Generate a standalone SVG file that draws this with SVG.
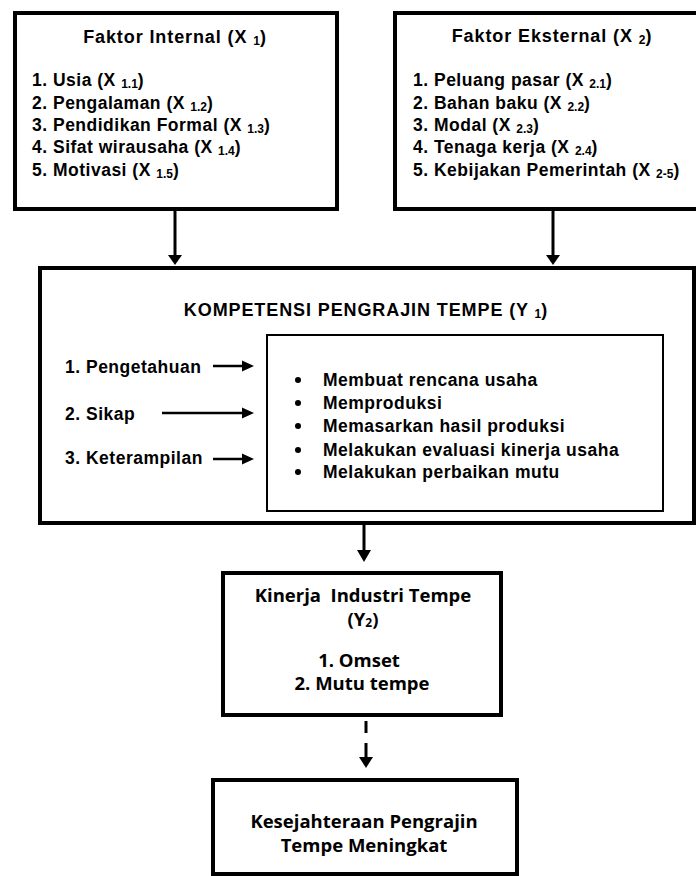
<svg xmlns="http://www.w3.org/2000/svg" width="696" height="876" viewBox="0 0 696 876">
<style>
.box{fill:#fff;stroke:#000;stroke-width:4}
.inner{fill:#fff;stroke:#000;stroke-width:2}
.t{font-family:"Liberation Sans",Arial,sans-serif;font-weight:700;font-size:17.5px;letter-spacing:0.5px;fill:#000}
.h{font-family:"Liberation Sans",Arial,sans-serif;font-weight:700;font-size:18px;letter-spacing:0.9px;fill:#000}
.c{font-family:"Open Sans","Noto Sans",sans-serif;font-weight:700;font-size:18.5px;fill:#000}
.sub{font-size:12px;letter-spacing:0}
.ln{stroke:#000;stroke-width:3;fill:none}
.ln2{stroke:#000;stroke-width:2.5;fill:none}
</style>
<rect width="696" height="876" fill="#fff"/>
<g id="faktor-internal">
<rect class="box" x="15" y="13" width="322" height="196"/>
<text class="h" x="175" y="43" text-anchor="middle">Faktor Internal (X <tspan class="sub" dy="2">1</tspan><tspan dy="-2">)</tspan></text>
<text class="t" x="32" y="86">1. Usia (X <tspan class="sub" dy="2">1.1</tspan><tspan dy="-2">)</tspan></text>
<text class="t" x="32" y="109">2. Pengalaman (X <tspan class="sub" dy="2">1.2</tspan><tspan dy="-2">)</tspan></text>
<text class="t" x="32" y="131">3. Pendidikan Formal (X <tspan class="sub" dy="2">1.3</tspan><tspan dy="-2">)</tspan></text>
<text class="t" x="32" y="153">4. Sifat wirausaha (X <tspan class="sub" dy="2">1.4</tspan><tspan dy="-2">)</tspan></text>
<text class="t" x="32" y="176">5. Motivasi (X <tspan class="sub" dy="2">1.5</tspan><tspan dy="-2">)</tspan></text>
</g>
<g id="faktor-eksternal">
<rect class="box" x="395" y="13" width="305" height="196"/>
<text class="h" x="552" y="42" text-anchor="middle">Faktor Eksternal (X <tspan class="sub" dy="2">2</tspan><tspan dy="-2">)</tspan></text>
<text class="t" x="413" y="86">1. Peluang pasar (X <tspan class="sub" dy="2">2.1</tspan><tspan dy="-2">)</tspan></text>
<text class="t" x="413" y="109">2. Bahan baku (X <tspan class="sub" dy="2">2.2</tspan><tspan dy="-2">)</tspan></text>
<text class="t" x="413" y="131">3. Modal (X <tspan class="sub" dy="2">2.3</tspan><tspan dy="-2">)</tspan></text>
<text class="t" x="413" y="153">4. Tenaga kerja (X <tspan class="sub" dy="2">2.4</tspan><tspan dy="-2">)</tspan></text>
<text class="t" x="413" y="176">5. Kebijakan Pemerintah (X <tspan class="sub" dy="2">2-5</tspan><tspan dy="-2">)</tspan></text>
</g>
<g id="kompetensi">
<rect class="box" x="40" y="268" width="654" height="255"/>
<text class="h" x="366" y="316" text-anchor="middle">KOMPETENSI PENGRAJIN TEMPE (Y <tspan class="sub" dy="2">1</tspan><tspan dy="-2">)</tspan></text>
<text class="t" x="65" y="373">1. Pengetahuan</text>
<text class="t" x="65" y="420">2. Sikap</text>
<text class="t" x="65" y="464">3. Keterampilan</text>
</g>
<g id="kompetensi-items">
<rect class="inner" x="267" y="335" width="396" height="176"/>
<circle cx="298" cy="380" r="3"/>
<circle cx="298" cy="403" r="3"/>
<circle cx="298" cy="426" r="3"/>
<circle cx="298" cy="450" r="3"/>
<circle cx="298" cy="472" r="3"/>
<text class="t" x="323" y="386">Membuat rencana usaha</text>
<text class="t" x="323" y="409">Memproduksi</text>
<text class="t" x="323" y="432">Memasarkan hasil produksi</text>
<text class="t" x="323" y="456">Melakukan evaluasi kinerja usaha</text>
<text class="t" x="323" y="478">Melakukan perbaikan mutu</text>
</g>
<g id="kinerja">
<rect class="box" x="223" y="573" width="278" height="142"/>
<text class="c" x="363" y="602" text-anchor="middle" xml:space="preserve">Kinerja  Industri Tempe</text>
<text class="c" x="363" y="626" text-anchor="middle">(Y<tspan class="sub" dy="1">2</tspan><tspan dy="-1">)</tspan></text>
<text class="c" x="359" y="667" text-anchor="middle">1. Omset</text>
<text class="c" x="362" y="690" text-anchor="middle">2. Mutu tempe</text>
</g>
<g id="kesejahteraan">
<rect class="box" x="213" y="780" width="304" height="94"/>
<text class="c" x="364" y="828" text-anchor="middle">Kesejahteraan Pengrajin</text>
<text class="c" x="364" y="852" text-anchor="middle">Tempe Meningkat</text>
</g>
<g id="connectors">
<line class="ln" x1="175" y1="211" x2="175" y2="257"/>
<polygon points="168,255 182,255 175,265"/>
<line class="ln" x1="553" y1="211" x2="553" y2="257"/>
<polygon points="546,255 560,255 553,265"/>
<line class="ln" x1="364" y1="525" x2="364" y2="552"/>
<polygon points="357,550 371,550 364,562"/>
<line class="ln" x1="366" y1="721" x2="366" y2="733"/>
<line class="ln" x1="366" y1="743" x2="366" y2="759"/>
<polygon points="359,757 373,757 366,768"/>
<line class="ln2" x1="213" y1="366" x2="244" y2="366"/>
<polygon points="242,360.5 254,366 242,371.5"/>
<line class="ln2" x1="162" y1="413" x2="244" y2="413"/>
<polygon points="242,407.5 254,413 242,418.5"/>
<line class="ln2" x1="213" y1="459" x2="244" y2="459"/>
<polygon points="242,453.5 254,459 242,464.5"/>
</g>
</svg>
